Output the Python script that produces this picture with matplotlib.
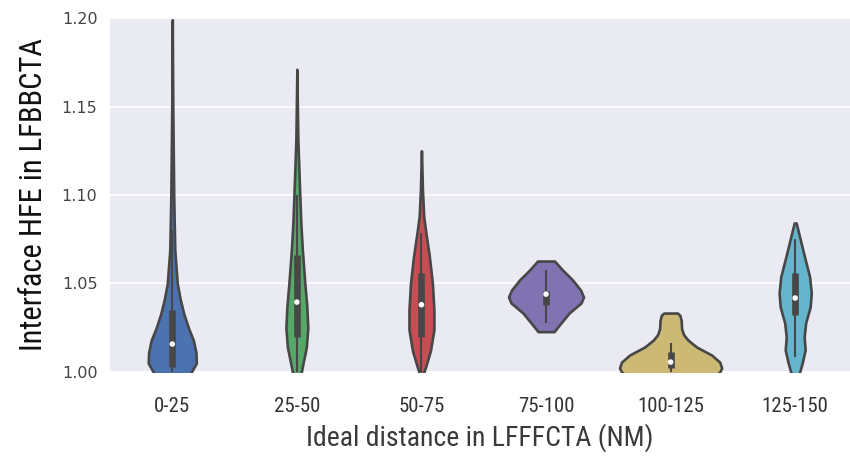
import numpy as np
import matplotlib
matplotlib.use("Agg")
import matplotlib.pyplot as plt

categories = ["0-25", "25-50", "50-75", "75-100", "100-125", "125-150"]
colors = ["#4C72B0", "#55A868", "#C44E52", "#8172B2", "#CCB974", "#64B5CD"]

# violin outlines: y value and half width (x units)
y_0_25 = [0.990, 0.995, 1.000, 1.005, 1.011, 1.018, 1.025, 1.033, 1.041, 1.050, 1.069, 1.097, 1.150, 1.199]
w_0_25 = [0.0, 0.112, 0.153, 0.193, 0.190, 0.169, 0.129, 0.092, 0.064, 0.040, 0.020, 0.012, 0.004, 0.0]

y_25_50 = [0.990, 1.000, 1.003, 1.014, 1.025, 1.037, 1.050, 1.069, 1.084, 1.099, 1.131, 1.150, 1.171]
w_25_50 = [0.0, 0.036, 0.044, 0.076, 0.088, 0.080, 0.064, 0.044, 0.032, 0.024, 0.008, 0.004, 0.0]

y_50_75 = [0.990, 1.000, 1.003, 1.012, 1.024, 1.035, 1.050, 1.065, 1.0785, 1.088, 1.103, 1.125]
w_50_75 = [0.0, 0.020, 0.034, 0.072, 0.100, 0.100, 0.088, 0.064, 0.036, 0.018, 0.008, 0.0]

y_75_100 = [1.0228, 1.0277, 1.0333, 1.039, 1.0424, 1.0463, 1.052, 1.0576, 1.0627]
w_75_100 = [0.064, 0.120, 0.185, 0.281, 0.301, 0.277, 0.213, 0.133, 0.068]

y_100_125 = [0.990, 0.995, 1.000, 1.0023, 1.0056, 1.0096, 1.0141, 1.018, 1.021, 1.0245, 1.029, 1.032, 1.0333]
w_100_125 = [0.0, 0.305, 0.394, 0.410, 0.394, 0.329, 0.209, 0.140, 0.105, 0.088, 0.085, 0.075, 0.055]

y_125_150 = [0.990, 1.000, 1.005, 1.0124, 1.0198, 1.0277, 1.0367, 1.0446, 1.0537, 1.067, 1.0785, 1.0842]
w_125_150 = [0.0, 0.036, 0.056, 0.080, 0.072, 0.084, 0.120, 0.129, 0.116, 0.068, 0.028, 0.008]

# box parts: quartiles, whiskers, medians
q1 = [1.003, 1.020, 1.020, 1.038, 1.0023, 1.032]
q3 = [1.035, 1.066, 1.056, 1.046, 1.0113, 1.056]
whisk_lo = [0.990, 0.990, 0.990, 1.0277, 0.990, 1.0085]
whisk_hi = [1.080, 1.100, 1.0785, 1.0576, 1.0164, 1.075]
medians = [1.0158, 1.0395, 1.038, 1.044, 1.0056, 1.0418]

ys = [y_0_25, y_25_50, y_50_75, y_75_100, y_100_125, y_125_150]
ws = [w_0_25, w_25_50, w_50_75, w_75_100, w_100_125, w_125_150]

narrow = ["Roboto Condensed", "Archivo Narrow", "DejaVu Sans"]

fig = plt.figure(figsize=(8.5, 4.57), dpi=100)
ax = fig.add_axes([0.1294, 0.186, 0.8706, 0.7746])
ax.set_facecolor("#EAEAF2")

pos = np.arange(len(categories))
stats = []
for y, w in zip(ys, ws):
    stats.append({"coords": np.array(y), "vals": np.array(w),
                  "mean": 0, "median": 0, "min": min(y), "max": max(y)})
widths = [2 * max(w) for w in ws]
parts = ax.violin(stats, positions=pos, widths=widths,
                  showmeans=False, showextrema=False, showmedians=False)
for body, c in zip(parts["bodies"], colors):
    body.set_facecolor(c)
    body.set_edgecolor("#474747")
    body.set_linewidth(1.9)
    body.set_alpha(1)
    body.set_zorder(2)

ax.vlines(pos, whisk_lo, whisk_hi, color="#474747", lw=1.5, zorder=3)
ax.vlines(pos, q1, q3, color="#474747", lw=4.8, zorder=3)
ax.scatter(pos, medians, s=16, color="white", zorder=4, edgecolors="none")

ax.set_ylim(1.0, 1.2)
ax.set_xlim(-0.5, 5.44)
ax.set_yticks([1.00, 1.05, 1.10, 1.15, 1.20])
ax.set_yticklabels(["1.00", "1.05", "1.10", "1.15", "1.20"])
ax.set_xticks(pos)
ax.set_xticklabels(categories, family=narrow, fontsize=15)
ax.tick_params(axis="y", length=0, pad=9, labelsize=11.5, labelcolor="#444444")
ax.tick_params(axis="x", length=0, pad=18, labelcolor="#333333")
ax.grid(axis="y", color="white", lw=1.2)
ax.set_axisbelow(True)
for s in ax.spines.values():
    s.set_visible(False)

ax.set_xlabel("Ideal distance in LFFFCTA (NM)", family=narrow,
              fontsize=20, color="#3a3a3a", labelpad=5)
ax.set_ylabel("Interface HFE in LFBBCTA", family=narrow,
              fontsize=22, color="#111111", labelpad=10)

fig.savefig("out.png", dpi=100)
